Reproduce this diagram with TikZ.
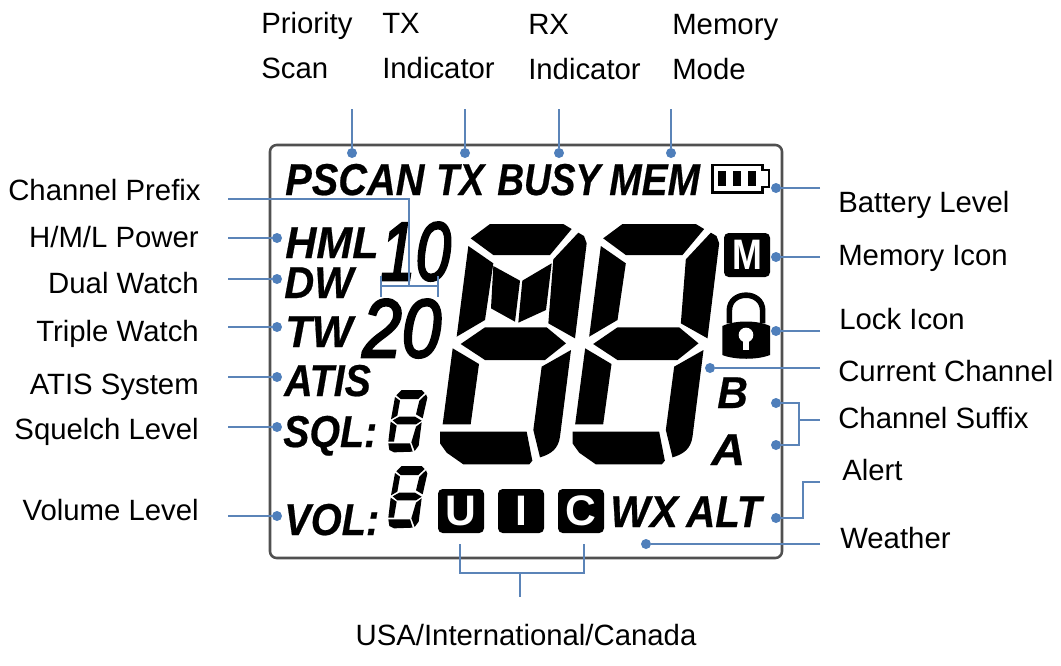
\documentclass[tikz,border=0pt]{standalone}
\usepackage{fontspec}
\usepackage{xcolor}
\usepackage{tikz}
\usetikzlibrary{positioning, calc}
\setmainfont{Liberation Sans}
\newfontfamily\lcdfont[FakeBold=0.5]{Liberation Sans}
\newfontfamily\numfont[FakeBold=3]{Liberation Sans}
\newcommand{\lcdw}[2]{\scalebox{#1}[1]{#2}}
\definecolor{leaderblue}{HTML}{5B84B8}
\definecolor{dotblue}{HTML}{4F7FBB}
\definecolor{framegrey}{HTML}{505050}

\begin{document}
\begin{tikzpicture}[
  x=0.75pt, y=-0.75pt,
  lbl/.style={inner sep=0pt, font=\fontsize{22}{26}\selectfont},
  lblwest/.style={lbl, anchor=base west},
  lbleast/.style={lbl, anchor=base east},
  lcd/.style={inner sep=0pt, anchor=base west,
              font=\fontsize{33.5}{36}\lcdfont\bfseries\itshape},
  lcdnum/.style={inner sep=0pt, anchor=base west,
              font=\fontsize{62}{64}\numfont\itshape},
  icon/.style={rectangle, rounded corners=3.5pt, fill=black, text=white,
               inner sep=0pt, minimum width=34.5pt, minimum height=33pt},
  dot/.style={circle, fill=dotblue, inner sep=0pt, minimum size=7.5pt},
  leader/.style={line width=1.6pt, color=leaderblue}
]
\useasboundingbox (0,0) rectangle (1061,665);
% Display frame
\draw[line width=1.9pt, color=framegrey, rounded corners=5pt] (270,145) rectangle (782,558);
% Indicator text on the display
\node[lcd] (pscan) at (285,195) {\lcdw{.89}{PSCAN}};
\node[lcd] (tx) at (436,195) {\lcdw{.84}{TX}};
\node[lcd] (busy) at (497,195) {\lcdw{.83}{BUSY}};
\node[lcd] (mem) at (609,195) {\lcdw{.87}{MEM}};
\node[lcd] (hml) at (285,258) {\lcdw{.965}{HML}};
\node[lcd] (dw) at (284,298) {\lcdw{.93}{DW}};
\node[lcd] (tw) at (285,347) {\lcdw{.97}{TW}};
\node[lcd] (atis) at (284,396) {\lcdw{.88}{ATIS}};
\node[lcd] (sql) at (283,447) {\lcdw{.88}{SQL:}};
\node[lcd] (vol) at (284,535) {\lcdw{.89}{VOL:}};
\node[lcd] (suffixb) at (717,408) {\lcdw{.95}{B}};
\node[lcd] (suffixa) at (711,465) {\lcdw{1.05}{A}};
\node[lcd] (wx) at (610,527) {\lcdw{.94}{WX}};
\node[lcd] (alt) at (686,527) {\lcdw{.9}{ALT}};
\node[lcdnum] (ten) at (380,280) {\lcdw{.77}{10}};
\node[lcdnum] (twenty) at (362,357) {\lcdw{.86}{20}};
% Region icons
\node[icon, font=\fontsize{32}{34}\selectfont\bfseries] (usa) at (461,511) {U};
\node[icon, font=\fontsize{32}{34}\selectfont\bfseries] (intl) at (521,511) {I};
\node[icon, font=\fontsize{32}{34}\selectfont\bfseries] (can) at (581,511) {C};
\node[icon, font=\fontsize{32}{34}\selectfont\bfseries] (memicon) at (747,255) {\lcdw{.84}{M}};
% Battery
\draw[line width=2pt] (712.5,165) -| (762.5,170) -| (769,187) -| (762.5,192.5) -| cycle;
\foreach \bx in {718,733,748}
  \fill (\bx,171) rectangle ++(8,15);
% Lock
\begin{scope}[shift={(715,290)}, x=0.25pt, y=-0.25pt]
  \fill (22,108) .. controls (60,90) and (127,90) .. (165,108)
    -- (165,195) .. controls (127,210) and (60,210) .. (22,195) -- cycle;
  \draw[line width=4.2pt] (43,100) -- (43,62) .. controls (43,0) and (143,0) .. (143,62) -- (143,100);
  \fill[white] (93,135) circle (22);
  \fill[white] (84,140) -- (102,140) -- (102,180) -- (84,180) -- cycle;
\end{scope}
% Large digits
\foreach \dx in {0,132.5} {
  \begin{scope}[shift={(430+\dx,210)}, x=0.25pt, y=-0.25pt]
    \fill (122,85) -- (180,42) -- (400,42) -- (425,57) -- (360,135) -- (190,135) -- cycle;
    \fill (115,108) -- (190,160) -- (165,330) -- (80,380) -- cycle;
    \fill (445,68) -- (462,78) -- (470,100) -- (435,385) -- (355,340) -- (370,148) -- cycle;
    \fill (92,402) -- (165,352) -- (350,352) -- (408,400) -- (345,450) -- (165,450) -- cycle;
    \fill (68,415) -- (147,462) -- (122,643) -- (38,643) -- cycle;
    \fill (423,420) -- (390,680) .. controls (385,715) and (365,732) .. (330,742) -- (310,660) -- (335,470) -- cycle;
    \fill (30,665) -- (290,665) -- (307,752) -- (298,763) -- (100,763) -- (50,728) -- (30,700) -- cycle;
  \end{scope}
}
% Inner segments of the first digit
\begin{scope}[shift={(430,210)}, x=0.25pt, y=-0.25pt]
  \fill (190,168) -- (270,212) -- (255,335) -- (183,295) -- cycle;
  \fill (277,212) -- (365,160) -- (348,300) -- (265,338) -- cycle;
\end{scope}
% Small digits
\foreach \dy in {385,461} {
  \begin{scope}[shift={(380,\dy)}, x=0.25pt, y=-0.25pt]
    \fill (49,31) -- (65,15) -- (125,15) -- (134,24) -- (115,42) -- (62,42) -- cycle;
    \fill (45,36) -- (60,47) -- (52,92) -- (33,103) -- cycle;
    \fill (138,28) -- (142,38) -- (128,100) -- (108,88) -- (118,47) -- cycle;
    \fill (38,106) -- (58,95) -- (105,95) -- (125,107) -- (108,118) -- (52,118) -- cycle;
    \fill (32,110) -- (50,122) -- (42,170) -- (25,170) -- cycle;
    \fill (125,112) -- (116,182) -- (104,198) -- (94,172) -- (108,125) -- cycle;
    \fill (25,175) -- (90,175) -- (98,200) -- (42,202) -- (28,195) -- cycle;
  \end{scope}
}
% Labels above
\node[lblwest] (lblpscan) at (261,33) {Priority};
\node[lblwest] (lblpscanb) at (261,78) {Scan};
\node[lblwest] (lbltx) at (382,33) {TX};
\node[lblwest] (lbltxb) at (382,78) {Indicator};
\node[lblwest] (lblrx) at (528,34) {RX};
\node[lblwest] (lblrxb) at (528,79) {Indicator};
\node[lblwest] (lblmem) at (672,34) {Memory};
\node[lblwest] (lblmemb) at (672,79) {Mode};
\foreach \nm/\xx in {pscan/352,tx/465,busy/559,mem/671} {
  \coordinate (\nm top) at (\xx,109);
  \node[dot] (dot\nm) at (\xx,153) {};
  \draw[leader] (\nm top) -- (dot\nm);
}
% Labels on the left
\node[lblwest] (lblprefix) at (8,200) {Channel Prefix};
\foreach \txt/\nm/\yb/\yd in {{H/M/L Power}/hml/247/238, {Dual Watch}/dw/293/279,
    {Triple Watch}/tw/341/327, {ATIS System}/atis/394/377,
    {Squelch Level}/sql/439/427, {Volume Level}/vol/520/516} {
  \node[lbleast] (lbl\nm) at (199,\yb) {\txt};
  \coordinate (\nm end) at (228,\yd);
  \node[dot] (dot\nm) at (277,\yd) {};
  \draw[leader] (\nm end) -- (dot\nm);
}
% Channel prefix bracket
\coordinate (prefix end) at (228,199);
\coordinate (prefix mid) at (409,286);
\coordinate (prefix lefttop) at (381,276);
\coordinate (prefix leftbot) at (381,297);
\coordinate (prefix righttop) at (438,276);
\coordinate (prefix rightbot) at (438,297);
\draw[leader] (prefix end) -| (prefix mid);
\draw[leader] (prefix lefttop) -- (prefix leftbot);
\draw[leader] (prefix righttop) -- (prefix rightbot);
\draw[leader] (prefix lefttop |- prefix mid) -- (prefix righttop |- prefix mid);
% Labels on the right
\node[lblwest] (lblbatt) at (838,212) {Battery Level};
\node[lblwest] (lblmemicon) at (838,265) {Memory Icon};
\node[lblwest] (lbllock) at (839,329) {Lock Icon};
\node[lblwest] (lblcur) at (838,381) {Current Channel};
\node[lblwest] (lblsuffix) at (838,428) {Channel Suffix};
\node[lblwest] (lblalert) at (842,480) {Alert};
\node[lblwest] (lblwx) at (840,548) {Weather};
\foreach \nm/\xd/\yd in {batt/776/188,memicon/776/257,lock/776/331,cur/710/368,wx/646/544} {
  \coordinate (\nm end) at (820,\yd);
  \node[dot] (dot\nm) at (\xd,\yd) {};
  \draw[leader] (\nm end) -- (dot\nm);
}
% Channel suffix bracket
\node[dot] (dotb) at (776,403) {};
\node[dot] (dota) at (776,445) {};
\coordinate (suffix end) at (820,420);
\coordinate (suffix knee) at (799,420);
\draw[leader] (dotb) -| (suffix knee) |- (dota);
\draw[leader] (suffix knee) -- (suffix end);
% Alert elbow
\node[dot] (dotalert) at (776,518) {};
\coordinate (alert end) at (820,482);
\coordinate (alert knee) at (803,500);
\draw[leader] (dotalert) -| (alert knee) |- (alert end);
% Bottom bracket
\node[lbl, anchor=base] (lblregion) at (526,645) {USA/International/Canada};
\coordinate (region left) at (460,544);
\coordinate (region right) at (584,544);
\coordinate (region mid) at (520,573);
\coordinate (region stem) at (520,597);
\draw[leader] (region left) |- (region mid) -| (region right);
\draw[leader] (region mid) -- (region stem);
\end{tikzpicture}
\end{document}
